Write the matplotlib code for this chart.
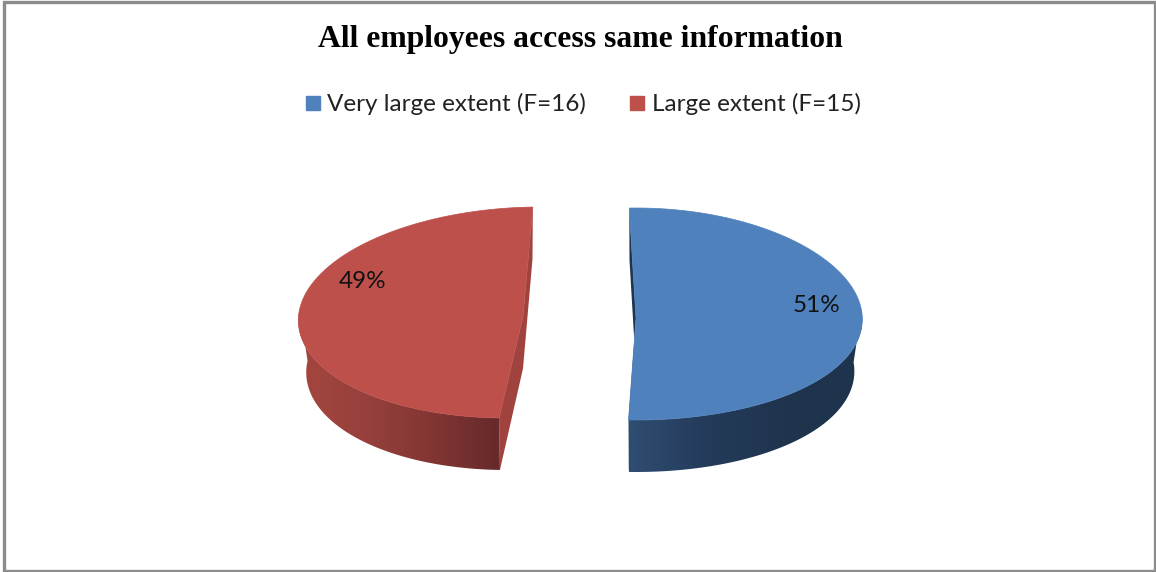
import numpy as np
import matplotlib
matplotlib.use('Agg')
import matplotlib.pyplot as plt
from matplotlib.colors import LinearSegmentedColormap
from matplotlib.lines import Line2D
from matplotlib.patches import Polygon, Rectangle

TITLE = 'All employees access same information'
CATEGORIES = ['Very large extent (F=16)', 'Large extent (F=15)']
SHARES = [51, 49]
FACE_COLORS = ['#4F81BD', '#BE504C']
CUT_COLORS = ['#1E3550', '#A0433F']
WALL_COLORS = [['#2F4D72', '#243B5A', '#1F344D', '#1E334C'],
               ['#A5463F', '#97403C', '#823633', '#652A2A']]

# apex x, centre y, x radius, y radius, shear, front bulge
SLICES = [(636, 314, 226, 106, 0.0, 0.05),
          (523, 312.5, 224, 105.5, 0.16, 0.0)]
LABEL_POS = [(817, 306), (362.5, 281)]
DEPTH = 52
BOTTOM_SCALE = 0.965
START_ANGLE = 90 + (SHARES[0] / 100 * 360 - 180) / 2

fig = plt.figure(figsize=(11.56, 5.72), dpi=100)
ax = fig.add_axes([0, 0, 1, 1])


def rim(geom, angles, lowered=False):
    cx, cy, rx, ry, shear, bulge = geom
    t = np.radians(angles)
    x = rx * np.cos(t) * (1 - bulge * np.sin(t)) + shear * ry * np.sin(t)
    y = -ry * np.sin(t)
    if lowered:
        return np.column_stack([cx + x * BOTTOM_SCALE, cy + y + DEPTH])
    return np.column_stack([cx + x, cy + y])


def draw_slice(geom, a_from, a_to, wall_from, wall_to, face, cut, wall):
    cx, cy = geom[0], geom[1]
    apex = np.array([cx, cy + 4])
    low_apex = apex + [0, DEPTH]
    back, front = rim(geom, [a_from, a_to])
    low_back, low_front = rim(geom, [a_from, a_to], lowered=True)

    # straight cut faces first, the top face hides most of them
    ax.add_patch(Polygon([back, low_back, low_apex, low_front, front, apex],
                         closed=True, fc=cut, ec='none', zorder=2))

    arc = np.linspace(wall_from, wall_to, 80)
    outline = np.vstack([rim(geom, arc), rim(geom, arc, lowered=True)[::-1]])
    clip = Polygon(outline, closed=True, fc='none', ec='none', transform=ax.transData)
    ax.add_patch(clip)
    cmap = LinearSegmentedColormap.from_list('wall', wall)
    im = ax.imshow(np.linspace(0, 1, 256).reshape(1, -1), cmap=cmap, aspect='auto',
                   extent=(outline[:, 0].min(), outline[:, 0].max(),
                           outline[:, 1].max(), outline[:, 1].min()), zorder=3)
    im.set_clip_path(clip)

    top = rim(geom, np.linspace(a_from, a_to, 200))
    ax.add_patch(Polygon(np.vstack([top, apex]), closed=True, fc=face, ec=face,
                         lw=0.5, zorder=4))


# blue runs clockwise from the top, red fills the remainder on the left
blue_end = START_ANGLE - SHARES[0] / 100 * 360
red_end = START_ANGLE + SHARES[1] / 100 * 360
draw_slice(SLICES[0], START_ANGLE, blue_end, blue_end, 2, FACE_COLORS[0], CUT_COLORS[0],
           WALL_COLORS[0])
draw_slice(SLICES[1], START_ANGLE, red_end, 178, red_end, FACE_COLORS[1], CUT_COLORS[1],
           WALL_COLORS[1])

for share, (x, y) in zip(SHARES, LABEL_POS):
    ax.text(x, y, f'{share}%', ha='center', va='center', fontsize=17.5, family='Lato',
            color='#111111', zorder=5)

ax.text(580.5, 39.5, TITLE, ha='center', va='center', fontsize=22.8, fontweight='bold',
        family='Liberation Serif', color='black')

handles = [Line2D([], [], ls='none', marker='s', ms=9.5, mfc=c, mec=c) for c in FACE_COLORS]
ax.legend(handles, CATEGORIES, loc='center', bbox_to_anchor=(583, 104),
          bbox_transform=ax.transData, ncol=2, frameon=False, handlelength=0.6,
          handletextpad=0.3, columnspacing=1.8,
          prop={'family': 'Lato', 'size': 17.5}, labelcolor='#222222')

# chart frame
ax.add_patch(Rectangle((3.5, 2), 1151, 568.5, fc='none', ec='#8C8C8C', lw=2.4, zorder=6))

ax.set_xlim(0, 1156)
ax.set_ylim(572, 0)
ax.axis('off')
fig.savefig('out.png', dpi=100, facecolor='white')
